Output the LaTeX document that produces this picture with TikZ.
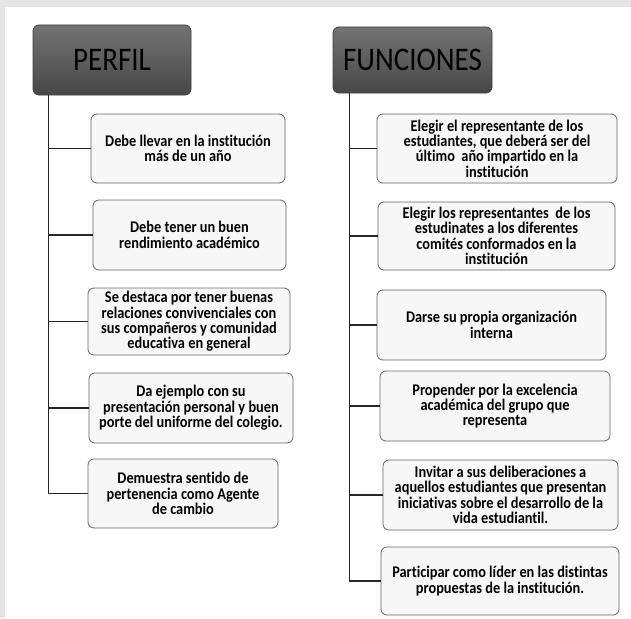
\documentclass[tikz,border=0pt]{standalone}
\usepackage{fontspec}
\setmainfont[Ligatures=NoCommon]{Carlito}
\newfontfamily\tallfont[Ligatures=NoCommon,FakeStretch=0.88]{Carlito}
\usetikzlibrary{positioning,calc}

\begin{document}
\begin{tikzpicture}
[
   x=1pt, y=-1pt,
   line width=1.2pt
]

\tikzset{head/.style = {rectangle, rounded corners=6pt, draw=black!75, line width=0.8pt,
   top color=black!55, bottom color=black!72, font=\tallfont\fontsize{33}{34}\selectfont, inner sep=0pt}}
\tikzset{item/.style = {rectangle, rounded corners=6pt, draw=black!60, line width=0.8pt,
   fill=black!3, align=center, font=\tallfont\bfseries\fontsize{16.3}{15.4}\selectfont, inner sep=0pt}}
\tikzset{link/.style = {draw=black!85, line width=1.3pt}}

% background
\fill[black!10] (0,0) rectangle (631,618);
\fill[white] (5,7) rectangle (631,618);
\useasboundingbox (0,0) rectangle (631,618);

% nodes
\node[head, minimum width=158pt, minimum height=70pt] (perfil) at (112,60) {PERFIL};
\node[head, minimum width=159pt, minimum height=66pt] (func) at (412.5,60) {FUNCIONES};

\node[item, minimum width=194pt, minimum height=69pt] (p1) at (188,148.5)
   {Debe llevar en la institución\\más de un año};
\node[item, minimum width=193pt, minimum height=70pt] (p2) at (189.5,235)
   {Debe tener un buen\\rendimiento académico};
\node[item, minimum width=202pt, minimum height=67pt] (p3) at (189,321.5)
   {Se destaca por tener buenas\\relaciones convivenciales con\\sus compañeros y comunidad\\educativa en general};
\node[item, minimum width=204pt, minimum height=70pt] (p4) at (191,408)
   {Da ejemplo con su\\presentación personal y buen\\porte del uniforme del colegio.};
\node[item, minimum width=190pt, minimum height=69pt] (p5) at (183,493.5)
   {Demuestra sentido de\\pertenencia como Agente\\de cambio};

\node[item, minimum width=240pt, minimum height=69pt] (f1) at (497,148.5)
   {Elegir el representante de los\\estudiantes, que deberá ser del\\último\ \ año impartido en la\\institución};
\node[item, minimum width=237pt, minimum height=68pt] (f2) at (496.5,236)
   {Elegir los representantes\ \ de los\\estudinates a los diferentes\\comités conformados en la\\institución};
\node[item, minimum width=229pt, minimum height=70pt] (f3) at (491.5,325)
   {Darse su propia organización\\interna};
\node[item, minimum width=230pt, minimum height=70pt] (f4) at (495,406)
   {Propender por la excelencia\\académica del grupo que\\representa};
\node[item, minimum width=235pt, minimum height=70pt] (f5) at (500.5,495)
   {Invitar a sus deliberaciones a\\aquellos estudiantes que presentan\\iniciativas sobre el desarrollo de la\\vida estudiantil.};
\node[item, minimum width=238pt, minimum height=68pt] (f6) at (500,581)
   {Participar como líder en las distintas\\propuestas de la institución.};

\coordinate (pl) at ($(perfil.south west)+(16,0)$);
\coordinate (fl) at ($(func.south west)+(17,0)$);

% arcs
\draw[link] (pl) -- (pl |- p5.west) -- (p5.west);
\foreach \n in {p1,p2,p3,p4}
   \draw[link] (pl |- \n.west) -- (\n.west);

\draw[link] (fl) -- (fl |- f6.west) -- (f6.west);
\foreach \n in {f1,f2,f3,f4,f5}
   \draw[link] (fl |- \n.west) -- (\n.west);

\end{tikzpicture}
\end{document}
